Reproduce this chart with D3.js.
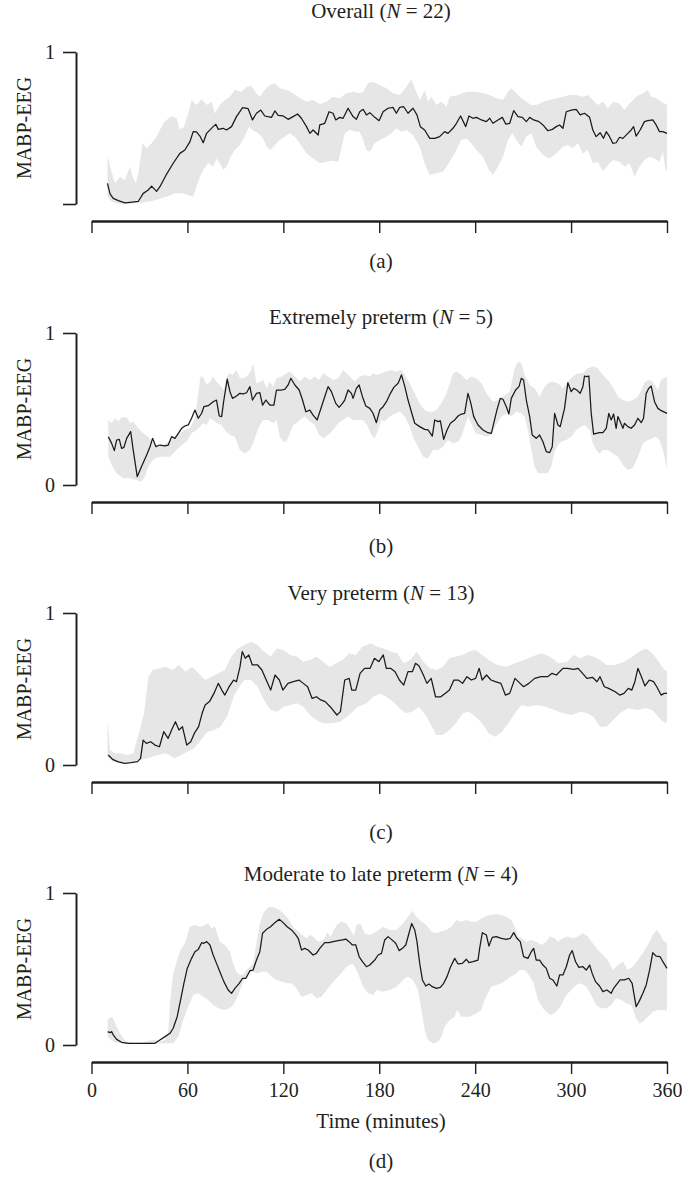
<!DOCTYPE html>
<html>
<head>
<meta charset="utf-8">
<script src="https://cdn.jsdelivr.net/npm/d3@7"></script>
<style>
  body { margin: 0; background: #fff; }
  svg { display: block; background: #fff; }
  text { font-family: "Liberation Serif", "Times New Roman", serif; fill: #231f20; }
</style>
</head>
<body>
<svg id="chart" width="682" height="1179"></svg>
<script>
// ---- Data: MABP-EEG over time (minutes), group mean and spread band ----
const timeTicks = [0, 60, 120, 180, 240, 300, 360];
const valueTicks = [0, 1];
const groupNames = ["Overall", "Extremely preterm", "Very preterm", "Moderate to late preterm"];
const groupSizes = [22, 5, 13, 4];
const panelLetters = ["(a)", "(b)", "(c)", "(d)"];

const overallMean = [[10,0.136],[11.6,0.066],[13.6,0.037],[16.8,0.022],[20.9,0.007],[24.1,0.011],[29.3,0.018],[32.4,0.07],[35.5,0.092],[37.6,0.118],[40.7,0.083],[42.8,0.114],[47,0.197],[51.1,0.268],[55.3,0.333],[58.4,0.355],[61.6,0.41],[63.6,0.476],[65.7,0.474],[67.8,0.447],[69.9,0.403],[72,0.465],[76.1,0.509],[77.8,0.524],[79.3,0.491],[82.4,0.498],[84.5,0.487],[87.6,0.509],[90.7,0.575],[94.5,0.634],[98,0.627],[100.7,0.553],[103.2,0.597],[105.9,0.618],[108.4,0.579],[112.6,0.57],[114.7,0.612],[116.8,0.583],[119.9,0.579],[123,0.557],[126.1,0.575],[128.9,0.592],[131.3,0.564],[134.5,0.509],[136.6,0.465],[138.6,0.487],[141.8,0.454],[142.8,0.52],[145.9,0.531],[148.6,0.607],[151.1,0.597],[152.8,0.553],[155.3,0.57],[157.4,0.564],[160.5,0.63],[163.6,0.575],[165.7,0.557],[167.8,0.607],[169.9,0.623],[172,0.586],[174.1,0.601],[177.2,0.57],[179.9,0.548],[182.4,0.607],[185.5,0.63],[188.6,0.636],[190.7,0.597],[192.8,0.636],[195.3,0.64],[198,0.597],[201.1,0.63],[203.6,0.586],[205.7,0.509],[208.4,0.487],[211.6,0.432],[214.7,0.432],[217.8,0.443],[220.9,0.476],[223,0.465],[226.1,0.498],[228.3,0.531],[230.9,0.579],[234.1,0.509],[236.1,0.579],[238.6,0.564],[240.8,0.57],[243.9,0.553],[247,0.542],[249.1,0.564],[251.1,0.531],[254.3,0.553],[257,0.57],[259.1,0.526],[261.6,0.531],[264.1,0.614],[266.8,0.575],[269.5,0.57],[272,0.542],[274.1,0.57],[276.6,0.553],[279.9,0.542],[282.4,0.52],[285.5,0.482],[288.3,0.491],[290.7,0.509],[292.8,0.52],[294.9,0.498],[297,0.607],[300.1,0.618],[303.2,0.623],[305.7,0.586],[308.4,0.597],[311.6,0.57],[313.6,0.487],[315.7,0.443],[318.2,0.469],[320.3,0.432],[322,0.476],[324.1,0.443],[326.1,0.399],[328.2,0.403],[330.3,0.439],[332.4,0.432],[335.5,0.465],[337.6,0.487],[339.1,0.509],[340.7,0.447],[343.2,0.487],[345.9,0.542],[348,0.548],[351.1,0.553],[353.2,0.52],[355.3,0.476],[357.4,0.476],[360,0.465]];
const overallUpper = [[10,0.32],[11.6,0.246],[14.7,0.136],[17.8,0.18],[20.9,0.158],[24.1,0.246],[25.7,0.18],[27.8,0.136],[29.3,0.202],[32,0.399],[34.5,0.366],[37.6,0.399],[40.7,0.443],[42.8,0.487],[44.9,0.531],[47,0.553],[50.1,0.579],[53.2,0.564],[55.3,0.487],[57.8,0.509],[60.5,0.596],[62.6,0.684],[65.7,0.651],[68.9,0.689],[72,0.651],[75.1,0.673],[77.2,0.596],[80.3,0.651],[83.4,0.684],[86.6,0.706],[89.7,0.75],[93.9,0.739],[97,0.772],[100.1,0.776],[103.2,0.728],[105.3,0.706],[108.4,0.75],[111.6,0.783],[114.7,0.794],[117.8,0.761],[122,0.75],[126.1,0.728],[130.3,0.695],[134.5,0.673],[138.6,0.684],[142.8,0.658],[147,0.673],[151.1,0.706],[155.3,0.695],[159.5,0.728],[163.6,0.739],[167.8,0.728],[169.9,0.739],[173,0.794],[176.1,0.805],[180.3,0.783],[184.5,0.761],[188.6,0.728],[192.8,0.717],[197,0.772],[200.1,0.82],[202.2,0.761],[205.3,0.684],[208.4,0.75],[210.5,0.673],[212.6,0.706],[215.7,0.651],[218.8,0.673],[222,0.64],[224.1,0.706],[229.3,0.717],[234.5,0.739],[240.7,0.739],[244.9,0.728],[249.1,0.717],[253.2,0.695],[257.4,0.684],[260.5,0.739],[262.6,0.761],[265.7,0.728],[268.9,0.695],[272,0.673],[275.1,0.651],[278.2,0.651],[282.4,0.673],[286.6,0.684],[290.7,0.695],[294.9,0.706],[299.1,0.717],[303.2,0.717],[307.4,0.706],[310.5,0.717],[313.6,0.684],[316.8,0.651],[319.9,0.673],[323,0.629],[326.1,0.673],[330.3,0.662],[333.4,0.618],[336.6,0.662],[340.7,0.706],[344.9,0.728],[348,0.75],[350.1,0.706],[353.2,0.695],[356.4,0.673],[360,0.651]];
const overallLower = [[10,0.048],[12.6,0.015],[16.8,0.004],[22,0.002],[30.3,0.007],[38.6,0.022],[47,0.048],[52.2,0.07],[57.4,0.07],[60.5,0.059],[63.6,0.048],[65.7,0.114],[67.8,0.18],[69.9,0.224],[73,0.268],[76.1,0.246],[78.2,0.3],[80.3,0.268],[82.4,0.224],[84.5,0.246],[87,0.311],[89.7,0.355],[92.8,0.388],[96,0.447],[98.6,0.509],[100.7,0.487],[104.3,0.465],[107.4,0.432],[109.5,0.377],[112,0.355],[114.7,0.388],[117.8,0.421],[120.9,0.443],[124.1,0.465],[127.2,0.443],[130.3,0.399],[134.5,0.333],[138.6,0.3],[142.8,0.268],[147,0.278],[151.1,0.285],[154.3,0.278],[156.3,0.366],[158.4,0.465],[161.6,0.487],[165.7,0.476],[167.8,0.476],[169.9,0.421],[172,0.355],[174.1,0.344],[177.2,0.399],[180.3,0.421],[184.5,0.443],[187.6,0.465],[190.7,0.498],[193.9,0.476],[197,0.487],[201.1,0.454],[205.3,0.377],[208.4,0.268],[211.6,0.191],[215.7,0.202],[219.9,0.213],[224.1,0.278],[228.2,0.355],[231.4,0.421],[234.5,0.432],[237.6,0.399],[240.7,0.355],[244.9,0.311],[248.6,0.224],[251.1,0.191],[254.3,0.246],[257.4,0.311],[260.5,0.421],[263.2,0.465],[265.7,0.421],[268.9,0.377],[272,0.443],[275.1,0.465],[278.2,0.377],[282.4,0.322],[286.6,0.3],[290.7,0.333],[294.9,0.377],[298,0.388],[301.1,0.366],[304.3,0.399],[307.4,0.333],[310.5,0.355],[313.6,0.268],[316.8,0.278],[319.9,0.213],[323,0.257],[326.1,0.289],[330.3,0.278],[333.4,0.246],[336.6,0.268],[339.7,0.18],[342.8,0.246],[345.9,0.289],[349.1,0.311],[352.2,0.3],[355.3,0.278],[357.4,0.344],[359.1,0.224],[360,0.22]];

const extremeMean = [[10.5,0.318],[12.6,0.274],[14.3,0.226],[15.7,0.296],[17.4,0.3],[18.8,0.241],[20.3,0.248],[22,0.307],[24.5,0.351],[26.1,0.23],[28.6,0.055],[31.3,0.121],[34.5,0.197],[36.6,0.252],[38.2,0.307],[40.3,0.252],[42.8,0.263],[46,0.257],[48,0.263],[50.1,0.318],[52.2,0.307],[54.3,0.34],[56.4,0.373],[58.4,0.388],[60.5,0.395],[62.6,0.439],[64.7,0.493],[66.8,0.439],[68.9,0.472],[70.3,0.515],[73,0.522],[76.1,0.548],[78.2,0.559],[79.9,0.454],[81.4,0.45],[82.8,0.559],[84.9,0.697],[86.6,0.614],[88.2,0.57],[90.7,0.585],[92.8,0.603],[94.9,0.599],[97,0.607],[99.1,0.647],[100.7,0.559],[103.2,0.603],[105.3,0.607],[107,0.526],[109.1,0.559],[111.6,0.526],[114.1,0.526],[115.7,0.625],[118.9,0.625],[120.9,0.629],[123,0.658],[124.7,0.702],[127.2,0.658],[129.9,0.625],[132,0.559],[134.1,0.482],[136.6,0.493],[138.6,0.46],[141.1,0.428],[143.2,0.493],[145.9,0.581],[148,0.647],[150.1,0.614],[152.8,0.537],[154.9,0.511],[157,0.537],[158.4,0.559],[160.5,0.625],[162.6,0.603],[163.6,0.57],[165.7,0.636],[167.4,0.658],[169.5,0.581],[171.6,0.52],[174.1,0.504],[176.1,0.472],[178.2,0.41],[180.3,0.493],[182.4,0.515],[184.5,0.548],[187,0.603],[189.1,0.642],[191.8,0.669],[193.9,0.724],[196,0.647],[198,0.559],[200.1,0.482],[202.2,0.406],[205.3,0.384],[208.4,0.366],[210.5,0.362],[213.2,0.322],[214.7,0.428],[216.8,0.417],[218.2,0.423],[220.3,0.3],[222.4,0.362],[224.5,0.406],[227.2,0.428],[229.3,0.454],[231.4,0.467],[233.4,0.471],[235.5,0.603],[237.2,0.542],[239.1,0.45],[241.8,0.395],[244.9,0.362],[248,0.344],[250.1,0.34],[251.6,0.406],[253.6,0.493],[255.7,0.57],[257.4,0.564],[259.5,0.515],[261.1,0.467],[262.6,0.57],[265.3,0.625],[267.4,0.647],[268.9,0.702],[270.3,0.691],[272,0.559],[274.1,0.45],[275.7,0.329],[278.2,0.307],[280.3,0.329],[282.4,0.285],[284.5,0.219],[286.6,0.213],[288.2,0.252],[289.7,0.471],[291.8,0.395],[293.2,0.384],[295.9,0.504],[298,0.673],[300.1,0.614],[301.6,0.636],[303.6,0.625],[305.7,0.603],[307.4,0.647],[308.4,0.717],[309.9,0.713],[311.1,0.717],[312.6,0.471],[314.1,0.335],[315.7,0.34],[317.8,0.344],[319.9,0.344],[322,0.373],[323.6,0.471],[325.1,0.428],[326.6,0.467],[328.2,0.373],[329.3,0.45],[330.7,0.417],[332.4,0.373],[333.4,0.406],[335.5,0.384],[337.6,0.373],[339.7,0.395],[341.8,0.439],[343.9,0.41],[345.3,0.439],[347,0.603],[348.6,0.636],[350.1,0.651],[352.2,0.548],[354.3,0.504],[356.4,0.489],[360,0.471]];
const extremeUpper = [[10.5,0.428],[12.6,0.406],[14.7,0.439],[16.8,0.417],[18.8,0.445],[22,0.445],[24.1,0.406],[26.1,0.417],[29.3,0.373],[32.4,0.34],[35.5,0.318],[38.6,0.274],[41.8,0.252],[44.9,0.263],[48,0.285],[51.1,0.307],[55.3,0.34],[58.4,0.362],[61.6,0.373],[64.7,0.439],[66.8,0.603],[68.2,0.717],[70.3,0.702],[72,0.658],[74.1,0.68],[76.1,0.713],[78.2,0.68],[80.3,0.658],[82.8,0.625],[84.5,0.713],[86.6,0.735],[88.2,0.724],[90.7,0.757],[92.8,0.702],[94.9,0.702],[97,0.713],[99.5,0.746],[101.1,0.8],[103.2,0.669],[105.3,0.68],[107.4,0.691],[109.5,0.636],[111.6,0.68],[113.6,0.647],[115.7,0.702],[118.9,0.713],[122,0.735],[124.1,0.746],[127.2,0.713],[130.3,0.68],[133.4,0.713],[136.6,0.691],[139.7,0.713],[142.4,0.691],[144.9,0.735],[148,0.713],[151.1,0.691],[154.3,0.702],[157.4,0.757],[159.5,0.735],[161.6,0.713],[164.7,0.68],[167.8,0.713],[170.9,0.724],[174.1,0.713],[176.1,0.735],[178.2,0.724],[181.4,0.735],[184.5,0.746],[187.6,0.757],[190.7,0.746],[193.9,0.757],[196,0.724],[199.1,0.669],[202.2,0.603],[205.3,0.537],[208.4,0.493],[210.5,0.482],[213.6,0.482],[215.7,0.493],[218.8,0.537],[221.6,0.592],[224.1,0.669],[226.1,0.735],[228.6,0.746],[231.4,0.724],[234.5,0.691],[237.6,0.713],[240.7,0.702],[243.9,0.669],[247,0.603],[251.1,0.548],[254.3,0.559],[257.4,0.581],[261.6,0.614],[264.7,0.768],[266.8,0.811],[268.9,0.8],[271,0.724],[274.1,0.658],[277.2,0.636],[280.3,0.581],[283.4,0.647],[286.6,0.68],[288.6,0.68],[291.8,0.669],[294.9,0.636],[298,0.68],[301.1,0.713],[304.3,0.735],[307.4,0.735],[310.5,0.768],[313.6,0.779],[316.8,0.768],[319.9,0.724],[323,0.691],[326.1,0.647],[329.3,0.581],[332.4,0.559],[335.5,0.548],[338.6,0.559],[341.8,0.581],[343.9,0.625],[346,0.68],[348.6,0.691],[351.1,0.68],[354.3,0.625],[356.4,0.691],[360,0.713]];
const extremeLower = [[10.5,0.186],[12.6,0.132],[15.7,0.077],[19.9,0.044],[24.1,0.044],[28.2,0.033],[31.3,0.022],[33.4,0.055],[35.5,0.121],[37.6,0.154],[39.7,0.175],[42.8,0.186],[46,0.186],[49.1,0.186],[53.2,0.23],[56.4,0.263],[59.5,0.285],[62.6,0.34],[65.7,0.362],[67.8,0.384],[69.9,0.406],[72,0.395],[74.1,0.439],[76.1,0.428],[78.2,0.406],[81.4,0.395],[83.4,0.362],[86.6,0.329],[89.7,0.318],[92.8,0.23],[95.9,0.208],[99.1,0.23],[101.1,0.274],[103.2,0.34],[105.3,0.395],[107.4,0.428],[110.5,0.428],[113.6,0.406],[115.7,0.428],[117.8,0.318],[119.9,0.285],[122,0.285],[124.1,0.34],[126.1,0.395],[128.2,0.406],[130.3,0.428],[133.4,0.45],[136.6,0.417],[139.7,0.395],[142.4,0.329],[144.9,0.307],[148,0.329],[151.1,0.362],[154.3,0.406],[157.4,0.428],[160.5,0.45],[163.6,0.428],[166.8,0.428],[169.9,0.428],[172.4,0.395],[175.1,0.329],[177.2,0.307],[179.3,0.362],[181.3,0.428],[183.4,0.417],[186.6,0.45],[189.7,0.471],[192.8,0.482],[196,0.45],[198.6,0.395],[201.6,0.307],[204.3,0.252],[207.4,0.186],[210.5,0.175],[213.6,0.23],[216.8,0.23],[219.9,0.252],[223,0.296],[226.1,0.274],[229.3,0.285],[231.4,0.318],[233.4,0.384],[235.5,0.45],[237.6,0.406],[240.3,0.34],[243.9,0.329],[247,0.318],[250.1,0.329],[253.2,0.395],[256.4,0.45],[259.5,0.471],[262.6,0.45],[265.7,0.482],[268.9,0.471],[271,0.45],[273,0.362],[275.1,0.23],[277.2,0.121],[279.3,0.077],[282.4,0.077],[285.5,0.077],[287.6,0.121],[289.7,0.219],[291.8,0.263],[293.9,0.285],[297,0.296],[300.1,0.318],[303.2,0.362],[306.3,0.384],[308.4,0.395],[311.6,0.362],[313.6,0.274],[315.7,0.23],[317.8,0.208],[319.9,0.23],[323,0.23],[326.1,0.208],[329.3,0.186],[332.4,0.132],[335.5,0.099],[338.6,0.11],[341.8,0.186],[344.9,0.274],[348,0.296],[351.1,0.307],[353.2,0.318],[355.3,0.296],[357.4,0.23],[360,0.11]];

const veryMean = [[10.5,0.066],[13.2,0.037],[16.4,0.022],[20.6,0.011],[24.7,0.015],[28.8,0.022],[30.7,0.044],[32.3,0.164],[34.3,0.142],[37,0.153],[39.7,0.131],[42.5,0.12],[45.2,0.219],[47.9,0.175],[50.1,0.23],[52.5,0.285],[54.7,0.23],[56.9,0.252],[59.6,0.131],[62.1,0.153],[64.3,0.208],[67,0.252],[69.2,0.34],[71.1,0.395],[73.8,0.417],[76.6,0.471],[79.3,0.537],[81.5,0.493],[83.4,0.46],[86.1,0.515],[88.9,0.559],[90.7,0.548],[92.9,0.647],[94.3,0.746],[96.2,0.702],[98.4,0.724],[100.6,0.658],[103.9,0.658],[106.6,0.625],[109.3,0.559],[112.1,0.493],[114.8,0.592],[117.5,0.559],[119.7,0.493],[122.9,0.537],[126.2,0.548],[129.8,0.559],[132.5,0.537],[135.2,0.515],[138,0.438],[140.7,0.449],[143.4,0.428],[146.2,0.417],[150.2,0.373],[153.5,0.329],[155.7,0.351],[158.4,0.559],[161.2,0.57],[162.8,0.493],[165.3,0.493],[168,0.603],[170.8,0.636],[174.3,0.636],[177,0.702],[179.8,0.68],[182.5,0.724],[184.4,0.636],[187.1,0.636],[189.9,0.614],[192.6,0.559],[195.3,0.526],[198,0.614],[200.7,0.614],[202.7,0.669],[204.9,0.651],[207.6,0.592],[209.8,0.537],[212.5,0.57],[215.2,0.449],[218.5,0.449],[221.2,0.471],[223.9,0.493],[226.7,0.559],[229.4,0.559],[232.1,0.537],[234.9,0.581],[237.6,0.559],[240.3,0.57],[242.5,0.636],[244.4,0.559],[247.1,0.592],[249.9,0.559],[252.6,0.548],[256.1,0.537],[258.9,0.46],[261.6,0.471],[264.9,0.57],[268.1,0.537],[270.3,0.515],[273.6,0.537],[277.2,0.57],[281.2,0.581],[285.3,0.581],[288.1,0.603],[290.8,0.592],[294.9,0.636],[297.6,0.636],[301.7,0.629],[304.4,0.636],[307.2,0.603],[309.9,0.57],[313.4,0.577],[316.2,0.548],[318.1,0.581],[320.8,0.515],[323.5,0.504],[327.6,0.482],[330.4,0.46],[333.1,0.471],[335.8,0.504],[338,0.493],[339.9,0.548],[341.8,0.636],[344,0.581],[346.2,0.52],[348.9,0.559],[351.6,0.548],[353.6,0.515],[356.3,0.46],[358.2,0.471],[360,0.471]];
const veryUpper = [[10,0.296],[11.6,0.099],[14.3,0.077],[17.9,0.077],[22,0.066],[26.1,0.077],[29.6,0.208],[32.9,0.34],[35.6,0.581],[38.3,0.625],[42.4,0.636],[46.5,0.647],[50.6,0.625],[54.7,0.658],[58.8,0.614],[62.9,0.647],[67,0.603],[71.1,0.559],[75.2,0.581],[79.3,0.603],[83.4,0.625],[87.5,0.713],[91.6,0.767],[95.7,0.789],[99.8,0.811],[103.9,0.789],[107.9,0.746],[112,0.713],[116.1,0.767],[120.2,0.757],[124.3,0.724],[128.4,0.713],[132.5,0.68],[136.6,0.691],[140.7,0.713],[144.8,0.68],[148.9,0.647],[153,0.669],[157.1,0.691],[161.2,0.735],[165.3,0.724],[169.4,0.778],[174.8,0.8],[178.9,0.778],[183,0.767],[187.1,0.746],[191.2,0.735],[195.3,0.669],[199.4,0.691],[203.5,0.746],[207.6,0.68],[211.7,0.636],[215.7,0.625],[219.8,0.647],[223.9,0.702],[228,0.713],[232.1,0.724],[236.2,0.746],[240.3,0.757],[244.4,0.724],[248.5,0.691],[253.9,0.658],[259.4,0.647],[264.9,0.669],[270.3,0.691],[275.8,0.713],[281.2,0.735],[286.7,0.713],[292.2,0.669],[297.6,0.68],[301.7,0.724],[305.8,0.702],[309.9,0.724],[314,0.713],[318.1,0.691],[322.2,0.658],[327.6,0.658],[333.1,0.68],[338.6,0.713],[342.7,0.746],[346.8,0.767],[350.8,0.735],[354.9,0.68],[357.6,0.636],[360,0.614]];
const veryLower = [[10,0.055],[13.2,0.022],[17.9,0.011],[24.7,0.022],[30.2,0.033],[35.6,0.044],[41.1,0.066],[46.5,0.077],[52,0.044],[56.1,0.066],[60.2,0.088],[64.3,0.11],[68.4,0.164],[72.5,0.219],[76.6,0.23],[80.7,0.252],[84.7,0.318],[88.9,0.449],[92.4,0.515],[95.7,0.559],[99.8,0.559],[103.9,0.515],[107.9,0.428],[112,0.362],[116.1,0.351],[120.2,0.384],[124.3,0.395],[128.4,0.406],[132.5,0.384],[136.6,0.329],[140.7,0.296],[144.8,0.274],[150.2,0.274],[155.7,0.285],[161.2,0.329],[166.6,0.384],[172.1,0.406],[176.2,0.449],[180.3,0.471],[184.4,0.449],[188.5,0.417],[192.6,0.373],[196.7,0.34],[200.7,0.351],[204.8,0.384],[208.9,0.329],[213,0.252],[215.7,0.197],[219.8,0.197],[223.9,0.23],[228,0.274],[232.1,0.34],[236.2,0.351],[240.3,0.318],[244.4,0.274],[248.5,0.208],[252.6,0.186],[256.7,0.219],[260.8,0.274],[264.9,0.34],[269,0.395],[273.1,0.384],[278.5,0.395],[284,0.384],[289.5,0.362],[294.9,0.34],[300.4,0.329],[305.8,0.351],[309.9,0.34],[314,0.318],[318.1,0.252],[322.2,0.252],[326.3,0.296],[330.4,0.34],[335.8,0.373],[341.3,0.362],[346.8,0.373],[350.8,0.362],[353.6,0.329],[356.3,0.296],[359,0.274],[360,0.285]];

const lateMean = [[10.1,0.088],[11.6,0.081],[12.6,0.088],[13.6,0.066],[15.7,0.037],[18.8,0.018],[23,0.011],[28.2,0.011],[34.5,0.011],[39.7,0.011],[42.8,0.033],[46,0.055],[49.1,0.077],[51.1,0.11],[53.6,0.186],[55.7,0.296],[57.8,0.406],[59.9,0.504],[62.6,0.57],[64.7,0.614],[66.8,0.629],[68.9,0.673],[70.3,0.669],[72,0.68],[74.1,0.658],[76.1,0.592],[78.2,0.537],[80.3,0.482],[82.8,0.417],[85.5,0.362],[87.6,0.34],[89.7,0.373],[92.4,0.406],[94.5,0.439],[96.6,0.439],[99.1,0.489],[101.1,0.493],[103.2,0.559],[105.3,0.614],[107,0.735],[109.5,0.761],[112,0.778],[114.7,0.805],[117.4,0.827],[119.9,0.805],[122.4,0.778],[125.1,0.757],[127.8,0.724],[129.3,0.702],[131.4,0.625],[133.4,0.636],[135.5,0.625],[138.6,0.592],[140.7,0.603],[142.8,0.636],[145.9,0.673],[148.6,0.673],[151.1,0.68],[154.3,0.686],[157,0.691],[159.1,0.697],[161.1,0.68],[163.2,0.658],[165.3,0.658],[167.4,0.582],[169.5,0.548],[172,0.515],[174.1,0.526],[176.1,0.548],[177.2,0.559],[179.3,0.592],[181.4,0.603],[183.4,0.691],[185.5,0.713],[187.6,0.695],[190.3,0.669],[192.4,0.621],[194.5,0.636],[196.6,0.658],[198.6,0.735],[200.3,0.8],[202.2,0.757],[203.6,0.68],[205.3,0.537],[207,0.428],[209.1,0.388],[211.1,0.401],[213.2,0.384],[215.7,0.373],[218.2,0.379],[220.3,0.406],[222.4,0.45],[224.5,0.511],[227.2,0.57],[229.3,0.533],[232,0.537],[234.5,0.564],[236.1,0.542],[238.6,0.548],[241.8,0.559],[242.8,0.636],[244.5,0.739],[247,0.724],[248.6,0.651],[250.7,0.708],[253.2,0.713],[256.4,0.702],[259.5,0.695],[262,0.702],[264.1,0.739],[266.1,0.702],[268.2,0.68],[270.3,0.581],[273,0.57],[275.1,0.614],[276.6,0.636],[278.2,0.559],[280.3,0.559],[282.4,0.526],[284.5,0.504],[286.6,0.439],[288.6,0.428],[291.1,0.388],[292.8,0.461],[294.9,0.461],[297,0.515],[299.1,0.592],[300.7,0.621],[302.8,0.548],[304.9,0.511],[307.4,0.515],[309.5,0.493],[311.6,0.526],[313.2,0.471],[315.3,0.417],[317.8,0.388],[319.9,0.351],[322.4,0.362],[325.1,0.34],[326.6,0.373],[328.6,0.401],[330.7,0.428],[333.4,0.428],[336.1,0.439],[338.2,0.406],[340.7,0.252],[342.8,0.292],[344.9,0.34],[347,0.395],[349.1,0.493],[351.1,0.607],[353.2,0.585],[355.7,0.581],[357.4,0.548],[360,0.504]];
const lateUpper = [[10.1,0.164],[12,0.186],[13.6,0.175],[15.7,0.121],[17.8,0.077],[19.9,0.044],[22,0.022],[26.1,0.015],[30.3,0.015],[34.5,0.022],[37.6,0.033],[40.3,0.033],[42.8,0.022],[46,0.033],[48,0.088],[49.5,0.318],[51.1,0.471],[53.6,0.559],[55.7,0.625],[58.4,0.669],[61.6,0.778],[64.7,0.789],[67.8,0.778],[70.9,0.789],[73,0.8],[75.1,0.768],[77.2,0.778],[80.3,0.68],[83.4,0.658],[86.6,0.614],[88.6,0.537],[90.7,0.482],[92.8,0.46],[94.9,0.46],[97,0.493],[99.1,0.515],[101.1,0.537],[103.2,0.669],[105.3,0.8],[107.4,0.866],[110.5,0.906],[113.6,0.906],[116.8,0.893],[119.9,0.866],[123,0.833],[126.1,0.778],[129.3,0.746],[132,0.724],[134.5,0.702],[136.6,0.724],[138.6,0.713],[141.8,0.68],[144.9,0.691],[147.4,0.739],[149.5,0.713],[152.2,0.768],[154.3,0.8],[156.4,0.811],[159.5,0.8],[162,0.757],[164.1,0.717],[165.7,0.789],[168.2,0.8],[170.9,0.735],[174.1,0.724],[178.2,0.746],[182.4,0.778],[186.6,0.757],[190.7,0.757],[194.9,0.8],[198,0.844],[200.7,0.884],[203.2,0.844],[206.4,0.811],[209.5,0.789],[212.6,0.746],[215.7,0.735],[218.9,0.746],[222,0.757],[225.1,0.778],[228.2,0.822],[231.4,0.811],[234.5,0.822],[237.6,0.811],[240.7,0.811],[243.9,0.833],[247,0.849],[250.1,0.857],[253.2,0.862],[256.4,0.855],[259.5,0.844],[262.6,0.822],[264.7,0.778],[266.8,0.713],[268.9,0.702],[272,0.68],[275.1,0.691],[278.2,0.68],[281.4,0.658],[284.5,0.68],[286.6,0.713],[289.7,0.702],[291.8,0.68],[294.9,0.702],[298,0.713],[301.1,0.702],[304.3,0.713],[307.4,0.735],[310.5,0.713],[313.6,0.669],[316.8,0.625],[319.9,0.592],[323,0.559],[326.1,0.493],[329.3,0.526],[332.4,0.548],[335.5,0.493],[338.6,0.515],[341.8,0.559],[344.9,0.603],[348,0.658],[351.1,0.724],[353.6,0.757],[355.3,0.735],[357.4,0.691],[360,0.669]];
const lateLower = [[10.1,0.055],[12.6,0.028],[15.7,0.015],[19.9,0.011],[28.2,0.007],[36.6,0.007],[42.8,0.011],[47.4,0.011],[51.1,0.011],[54.3,0.055],[57.4,0.164],[60.5,0.252],[63.6,0.329],[66.8,0.34],[69.9,0.318],[73,0.296],[76.1,0.263],[79.3,0.241],[82.4,0.23],[85.5,0.235],[88.6,0.263],[91.8,0.329],[94.9,0.417],[98,0.471],[101.1,0.482],[103.2,0.471],[106.3,0.482],[109.5,0.482],[112.6,0.45],[115.7,0.428],[118.9,0.417],[122,0.406],[125.1,0.406],[128.2,0.373],[131.3,0.318],[134.5,0.329],[137.6,0.34],[140.7,0.307],[143.8,0.318],[148,0.373],[152.2,0.428],[155.3,0.461],[159.5,0.515],[163.6,0.537],[166.8,0.471],[169.9,0.384],[173,0.34],[176.1,0.329],[178.2,0.362],[182.4,0.351],[186.6,0.362],[190.7,0.384],[194.9,0.428],[198,0.45],[201.1,0.428],[204.3,0.362],[206.4,0.23],[208.4,0.099],[210.5,0.033],[213.6,0.011],[216.8,0.022],[218.9,0.055],[220.9,0.121],[224.1,0.164],[227.2,0.186],[228.6,0.23],[231.4,0.186],[234.5,0.186],[236.6,0.186],[238.6,0.197],[240.7,0.208],[243.9,0.23],[245.9,0.296],[248,0.34],[250.1,0.384],[253.2,0.395],[256.4,0.406],[259.5,0.428],[262.6,0.45],[265.7,0.471],[267.8,0.493],[270.9,0.493],[273.6,0.461],[276.6,0.406],[279.3,0.296],[282.4,0.241],[285.5,0.208],[287.6,0.197],[290.7,0.219],[293.9,0.263],[297,0.329],[300.1,0.362],[303.2,0.395],[306.3,0.406],[309.5,0.384],[312.6,0.329],[315.7,0.263],[318.9,0.241],[322,0.241],[325.1,0.263],[328.2,0.307],[331.4,0.296],[334.5,0.274],[337.6,0.263],[340.7,0.175],[342.8,0.142],[344.9,0.153],[348,0.186],[351.1,0.219],[354.3,0.23],[357.4,0.23],[360,0.226]];

// ---- Panel geometry ----
const panels = [
  { mean: overallMean, upper: overallUpper, lower: overallLower, top: 52,  titleY: 18,  letterY: 268,  zeroLabel: false, timeLabels: false },
  { mean: extremeMean, upper: extremeUpper, lower: extremeLower, top: 333, titleY: 324, letterY: 553,  zeroLabel: true,  timeLabels: false },
  { mean: veryMean,    upper: veryUpper,    lower: veryLower,    top: 613, titleY: 600, letterY: 839,  zeroLabel: true,  timeLabels: false },
  { mean: lateMean,    upper: lateUpper,    lower: lateLower,    top: 893, titleY: 881, letterY: 1168, zeroLabel: true,  timeLabels: true }
];
const plotHeight = 152;
const xAxisOffset = 169;
const yAxisX = 76;
const centerX = 381;
const ink = "#231f20";
const labelSize = 21;
const tickSize = 20;

const svg = d3.select("#chart");
svg.append("rect").attr("width", 682).attr("height", 1179).attr("fill", "#fff");

const x = d3.scaleLinear().domain([0, 360]).range([91.5, 667]);

panels.forEach((p, i) => {
  const y = d3.scaleLinear().domain([0, 1]).range([p.top + plotHeight, p.top]);
  const g = svg.append("g");

  // spread band: upper edge forward, lower edge back
  const outline = p.upper.concat(p.lower.slice().reverse());
  g.append("path")
    .attr("d", d3.line().x(d => x(d[0])).y(d => y(d[1]))(outline) + "Z")
    .attr("fill", "#e6e6e6")
    .attr("stroke", "none");

  // group mean
  g.append("path")
    .datum(p.mean)
    .attr("d", d3.line().x(d => x(d[0])).y(d => y(d[1])))
    .attr("fill", "none")
    .attr("stroke", "#1a1a1a")
    .attr("stroke-width", 1.25)
    .attr("stroke-linejoin", "round");

  // y axis
  const yAxis = d3.axisLeft(y)
    .tickValues(valueTicks)
    .tickSize(13)
    .tickSizeOuter(0)
    .tickPadding(8)
    .tickFormat(d => (d === 0 && !p.zeroLabel) ? "" : d3.format("d")(d));
  const ya = g.append("g").attr("transform", `translate(${yAxisX},0)`).call(yAxis);
  ya.select(".domain").attr("stroke", ink).attr("stroke-width", 2);
  ya.selectAll(".tick line").attr("stroke", ink).attr("stroke-width", 1.6);
  ya.selectAll(".tick text").attr("font-size", tickSize).attr("fill", ink)
    .attr("font-family", "'Liberation Serif', serif");

  // x axis
  const xAxis = d3.axisBottom(x)
    .tickValues(timeTicks)
    .tickSize(12)
    .tickSizeOuter(0)
    .tickPadding(9)
    .tickFormat(p.timeLabels ? d3.format("d") : () => "");
  const xa = g.append("g").attr("transform", `translate(0,${p.top + xAxisOffset})`).call(xAxis);
  xa.select(".domain").attr("stroke", ink).attr("stroke-width", 2.5);
  xa.selectAll(".tick line").attr("stroke", ink).attr("stroke-width", 1.4);
  xa.selectAll(".tick text").attr("font-size", tickSize).attr("fill", ink)
    .attr("font-family", "'Liberation Serif', serif");

  // y axis title
  g.append("text")
    .attr("transform", `translate(31,${p.top + plotHeight / 2}) rotate(-90)`)
    .attr("text-anchor", "middle")
    .attr("font-size", 20)
    .text("MABP-EEG");

  // panel title with italic N
  const t = g.append("text")
    .attr("x", centerX).attr("y", p.titleY)
    .attr("text-anchor", "middle")
    .attr("font-size", labelSize);
  t.append("tspan").text(`${groupNames[i]} (`);
  t.append("tspan").attr("font-style", "italic").text("N");
  t.append("tspan").text(` = ${groupSizes[i]})`);

  // panel letter
  g.append("text")
    .attr("x", centerX).attr("y", p.letterY)
    .attr("text-anchor", "middle")
    .attr("font-size", labelSize)
    .text(panelLetters[i]);
});

// shared time axis title
svg.append("text")
  .attr("x", centerX).attr("y", 1128)
  .attr("text-anchor", "middle")
  .attr("font-size", labelSize)
  .text("Time (minutes)");
</script>
</body>
</html>
